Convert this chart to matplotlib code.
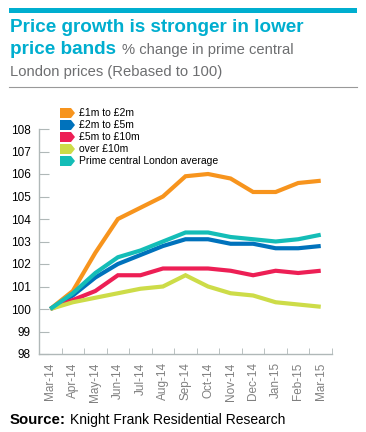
import numpy as np
import matplotlib.pyplot as plt
from matplotlib.patches import Polygon, Rectangle
from matplotlib.lines import Line2D

plt.rcParams['font.family'] = ['Liberation Sans', 'DejaVu Sans']

months = ['Mar-14', 'Apr-14', 'May-14', 'Jun-14', 'Jul-14', 'Aug-14', 'Sep-14',
          'Oct-14', 'Nov-14', 'Dec-14', 'Jan-15', 'Feb-15', 'Mar-15']

band_1_2 = [100, 100.8, 102.5, 104.0, 104.5, 105.0, 105.9, 106.0, 105.8, 105.2, 105.2, 105.6, 105.7]
band_2_5 = [100, 100.6, 101.4, 102.0, 102.4, 102.8, 103.1, 103.1, 102.9, 102.9, 102.7, 102.7, 102.8]
band_5_10 = [100, 100.4, 100.8, 101.5, 101.5, 101.8, 101.8, 101.8, 101.7, 101.5, 101.7, 101.6, 101.7]
over_10 = [100, 100.3, 100.5, 100.7, 100.9, 101.0, 101.5, 101.0, 100.7, 100.6, 100.3, 100.2, 100.1]
pcl_avg = [100, 100.7, 101.6, 102.3, 102.6, 103.0, 103.4, 103.4, 103.2, 103.1, 103.0, 103.1, 103.3]

labels = ['£1m to £2m', '£2m to £5m', '£5m to £10m', 'over £10m', 'Prime central London average']
colors = ['#F7941D', '#0072BC', '#ED1F55', '#CDDC48', '#14BDB7']
series = [band_1_2, band_2_5, band_5_10, over_10, pcl_avg]

W, H = 366, 432
fig = plt.figure(figsize=(W / 100, H / 100), dpi=100)


def fx(x):
    return x / W


def fy(y):
    return 1 - y / H


# header
fig.patches.append(Rectangle((fx(9), fy(13)), fx(348), 5 / H, transform=fig.transFigure,
                             color='#00AECF', lw=0))
fig.add_artist(Line2D([fx(9), fx(357)], [fy(87), fy(87)], color='#999999', lw=0.8))
fig.text(fx(10), fy(32), 'Price growth is stronger in lower', color='#00AECF',
         fontsize=13.6, fontweight='bold', va='baseline')
fig.text(fx(10), fy(54), 'price bands', color='#00AECF',
         fontsize=13.6, fontweight='bold', va='baseline')
fig.text(fx(122), fy(54), '% change in prime central', color='#6D6E70',
         fontsize=10.6, va='baseline')
fig.text(fx(10), fy(76), 'London prices (Rebased to 100)', color='#6D6E70',
         fontsize=10.6, va='baseline')

ax = fig.add_axes([fx(39), fy(354), 293 / W, 225 / H])
x = np.arange(len(months))
for s, c in zip(series, colors):
    ax.plot(x, s, color=c, lw=3.0, solid_joinstyle='miter', solid_capstyle='butt')

ax.set_xlim(-0.5, len(months) - 0.5)
ax.set_ylim(98, 108)
ax.set_yticks(range(98, 109))
ax.set_xticks(x)
ax.set_xticklabels(months, rotation=90, color='#808080', fontsize=8.5)
ax.set_xticks(np.arange(-0.5, len(months)), minor=True)
ax.tick_params(axis='x', which='major', length=0, pad=6)
ax.tick_params(axis='x', which='minor', direction='in', length=4, color='#B0B8B8')
ax.tick_params(axis='y', direction='in', length=7, color='#B0B8B8', labelsize=8.5, pad=6)
for sp in ['top', 'right']:
    ax.spines[sp].set_visible(False)
for sp in ['left', 'bottom']:
    ax.spines[sp].set_color('#B0B8B8')
    ax.spines[sp].set_linewidth(1)

# legend with arrow-shaped keys
for i, (lab, c) in enumerate(zip(labels, colors)):
    yc = 113 + i * 12
    pts = [(60, yc - 5), (71, yc - 5), (75, yc), (71, yc + 5), (60, yc + 5)]
    fig.patches.append(Polygon([(fx(px), fy(py)) for px, py in pts], closed=True,
                               transform=fig.transFigure, color=c, lw=0))
    fig.text(fx(79), fy(yc), lab, fontsize=7.5, va='center', color='black')

fig.text(fx(10), fy(424), 'Source:', fontsize=10.8, fontweight='bold', va='baseline')
fig.text(fx(70), fy(424), 'Knight Frank Residential Research', fontsize=10, va='baseline')

fig.savefig('out.png', dpi=100)
